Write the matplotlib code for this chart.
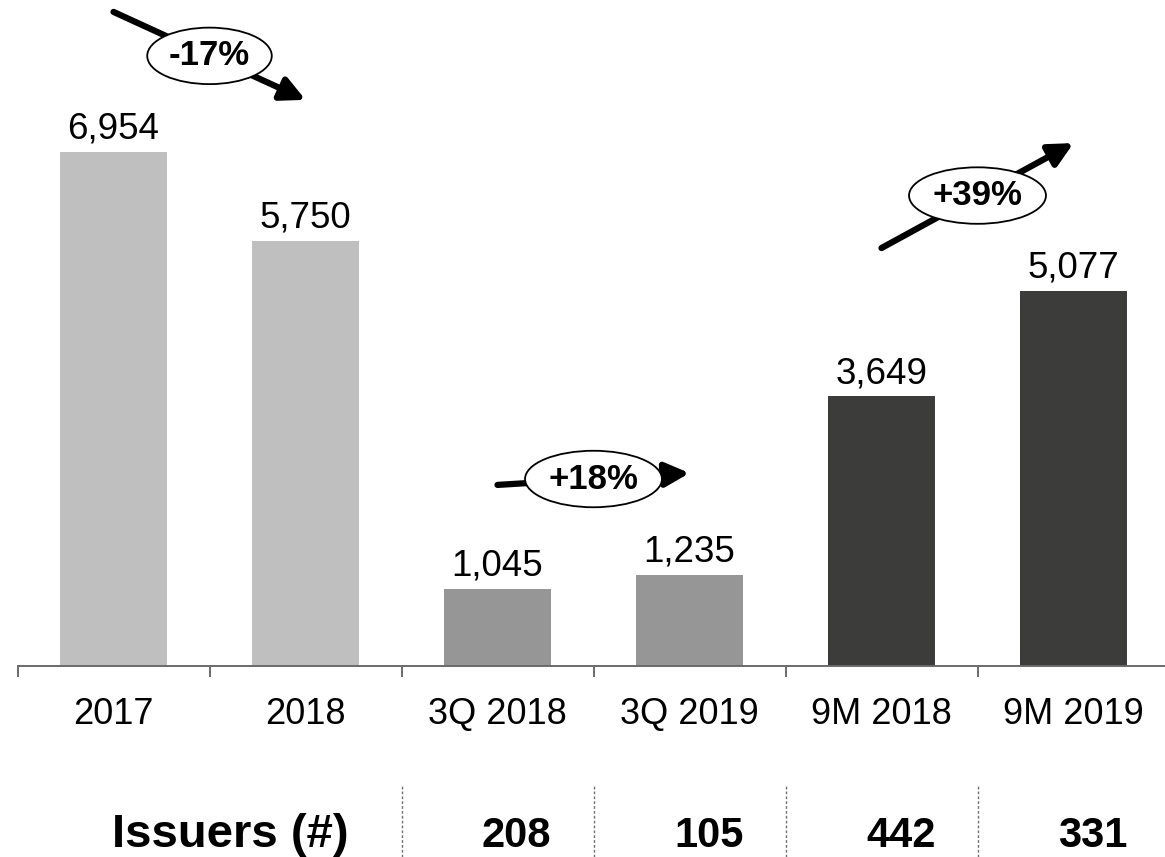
import matplotlib
matplotlib.use("Agg")
import matplotlib.pyplot as plt
import matplotlib.transforms as mtransforms

plt.rcParams['font.family'] = ['Liberation Sans', 'DejaVu Sans']

# data
categories = ["2017", "2018", "3Q 2018", "3Q 2019", "9M 2018", "9M 2019"]
values = [6954, 5750, 1045, 1235, 3649, 5077]
colors = ["#BFBFBF", "#BFBFBF", "#969696", "#969696", "#3C3C3B", "#3C3C3B"]
issuer_cats = [2, 3, 4, 5]
issuers = [208, 105, 442, 331]
# growth callouts: (from bar, to bar, label, y start, y end)
changes = [(0, 1, "-17%", 8850, 7660),
           (2, 3, "+18%", 2450, 2610),
           (4, 5, "+39%", 5655, 7075)]

W, H = 1165, 857
fig = plt.figure(figsize=(W / 100, H / 100), dpi=100)
ax = fig.add_axes([17.5 / W, (H - 666) / H, 1152 / W, 666 / H])

x = list(range(len(categories)))
ax.bar(x, values, width=0.557, color=colors, zorder=2)
ax.set_xlim(-0.5, 5.5)
ax.set_ylim(0, 9011)

for xi, v in zip(x, values):
    ax.annotate(f"{v:,}", (xi, v), xytext=(0, 9.4), textcoords="offset points",
                ha="center", va="baseline", fontsize=26.5)

for side in ["left", "top", "right"]:
    ax.spines[side].set_visible(False)
ax.spines["bottom"].set_color("#6A6A6A")
ax.spines["bottom"].set_linewidth(1.4)
ax.set_yticks([])
ax.set_xticks([i - 0.5 for i in x])
ax.set_xticklabels([])
ax.tick_params(axis="x", which="major", length=8, width=1.4, color="#6A6A6A")
ax.set_xticks(x, minor=True)
ax.set_xticklabels(categories, minor=True, fontsize=26)
ax.tick_params(axis="x", which="minor", length=0, pad=22)

for i0, i1, label, y0, y1 in changes:
    ax.annotate("", xy=(i1, y1), xytext=(i0, y0),
                arrowprops=dict(arrowstyle="-|>,head_length=0.8,head_width=0.4",
                                lw=4.5, color="black", shrinkA=0, shrinkB=0,
                                mutation_scale=18), zorder=3)
    ax.text((i0 + i1) / 2, (y0 + y1) / 2, label, ha="center", va="center",
            fontsize=25, fontweight="bold", zorder=4,
            bbox=dict(boxstyle="ellipse,pad=0.1", fc="white", ec="black", lw=1.3))

# issuers row
trans = mtransforms.blended_transform_factory(ax.transData, fig.transFigure)
ax.text(0.61, 10 / H, "Issuers (#)", transform=trans, ha="center", va="baseline",
        fontsize=34, fontweight="bold")
for c, n in zip(issuer_cats, issuers):
    ax.text(c + 0.1, 10 / H, str(n), transform=trans, ha="center", va="baseline",
            fontsize=30, fontweight="bold")
for c in issuer_cats:
    ax.plot([c - 0.5, c - 0.5], [0, 71 / H], transform=trans, clip_on=False,
            color="#707070", lw=1, linestyle=(0, (2, 1.5)))

fig.savefig("out.png", dpi=100)
